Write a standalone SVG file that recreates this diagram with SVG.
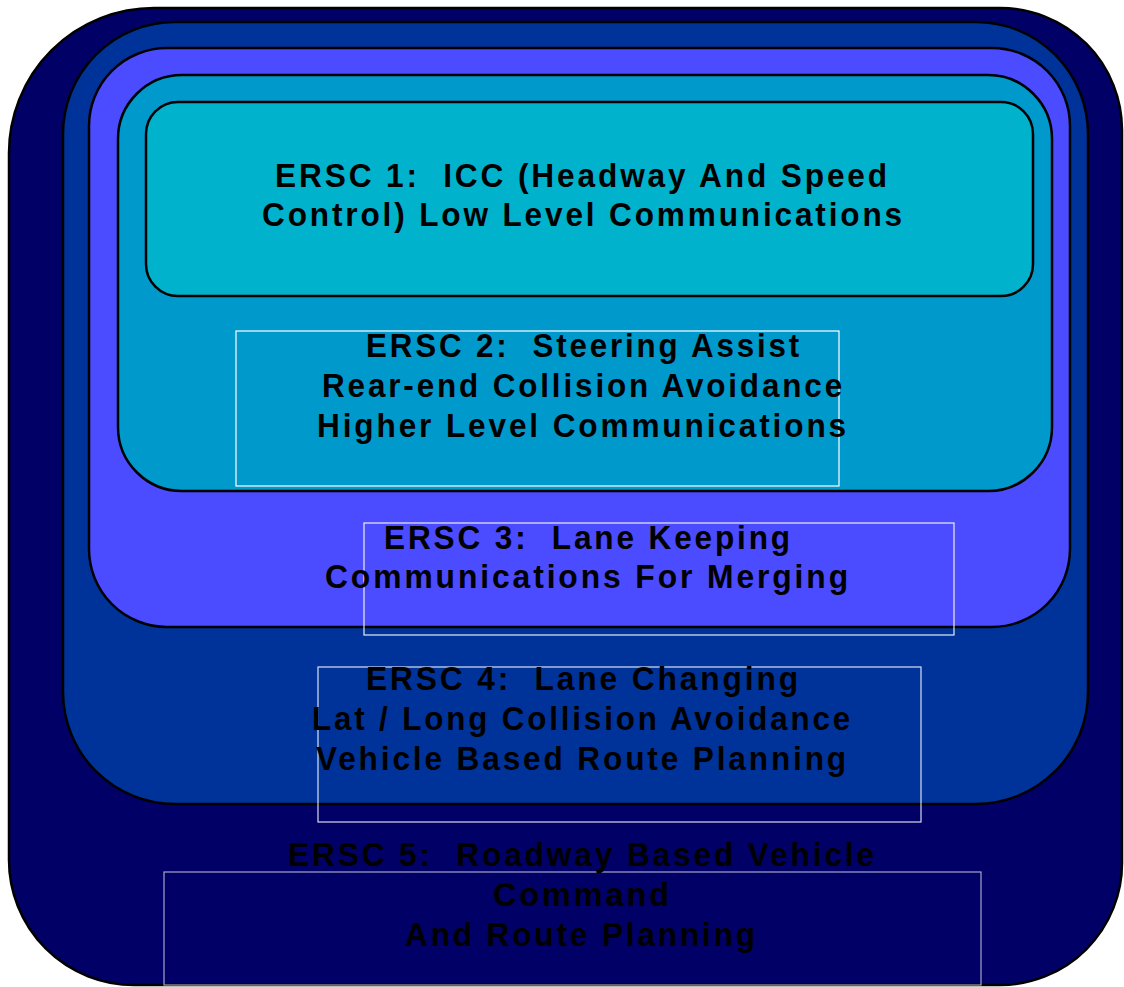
<svg xmlns="http://www.w3.org/2000/svg" width="1124" height="987" viewBox="0 0 1124 987">
<style>
.layer{stroke:#000;stroke-width:2.5}
.box{fill:none;stroke:#fff;stroke-width:1.2}
.t{font-family:"Liberation Sans",Arial,sans-serif;font-weight:bold;font-size:33px;letter-spacing:3px;fill:#000;white-space:pre}
</style>
<rect x="0" y="0" width="1124" height="987" fill="#fff"/>
<g id="ersc5">
<path class="layer" fill="#000066" d="M154,8 H1000 A122,122 0 0 1 1122,130 V863 A122,122 0 0 1 1000,985 H134 A125,125 0 0 1 9,860 V153 A145,145 0 0 1 154,8 Z"/>
</g>
<g id="ersc4">
<rect class="layer" x="63" y="22" width="1025" height="782" rx="112" ry="112" fill="#003399"/>
</g>
<g id="ersc3">
<rect class="layer" x="89" y="48" width="981" height="579" rx="78" ry="78" fill="#4B4BFF"/>
</g>
<g id="ersc2">
<rect class="layer" x="118" y="75" width="934" height="416" rx="64" ry="64" fill="#0099CC"/>
</g>
<g id="ersc1">
<rect class="layer" x="146" y="102" width="887" height="194" rx="32" ry="32" fill="#00B2CC"/>
<text class="t" x="275" y="187" textLength="615" lengthAdjust="spacingAndGlyphs">ERSC 1:  ICC (Headway And Speed</text>
<text class="t" x="262" y="226" textLength="643" lengthAdjust="spacingAndGlyphs">Control) Low Level Communications</text>
</g>
<g id="ersc2-label">
<rect class="box" x="236" y="331" width="603" height="155"/>
<text class="t" x="366" y="357" textLength="436" lengthAdjust="spacingAndGlyphs">ERSC 2:  Steering Assist</text>
<text class="t" x="322" y="397" textLength="523" lengthAdjust="spacingAndGlyphs">Rear-end Collision Avoidance</text>
<text class="t" x="317" y="437" textLength="532" lengthAdjust="spacingAndGlyphs">Higher Level Communications</text>
</g>
<g id="ersc3-label">
<rect class="box" x="364" y="523" width="590" height="112" stroke-opacity="0.9"/>
<text class="t" x="384" y="549" textLength="409" lengthAdjust="spacingAndGlyphs">ERSC 3:  Lane Keeping</text>
<text class="t" x="325" y="588" textLength="526" lengthAdjust="spacingAndGlyphs">Communications For Merging</text>
</g>
<g id="ersc4-label">
<rect class="box" x="318" y="667" width="603" height="155" stroke-opacity="0.85"/>
<text class="t" x="366" y="690" textLength="435" lengthAdjust="spacingAndGlyphs">ERSC 4:  Lane Changing</text>
<text class="t" x="312" y="730" textLength="541" lengthAdjust="spacingAndGlyphs">Lat / Long Collision Avoidance</text>
<text class="t" x="316" y="770" textLength="533" lengthAdjust="spacingAndGlyphs">Vehicle Based Route Planning</text>
</g>
<g id="ersc5-label">
<rect class="box" x="164" y="872" width="817" height="113" stroke-opacity="0.65"/>
<text class="t" x="288" y="866" textLength="589" lengthAdjust="spacingAndGlyphs">ERSC 5:  Roadway Based Vehicle</text>
<text class="t" x="493" y="906" textLength="179" lengthAdjust="spacingAndGlyphs">Command</text>
<text class="t" x="405" y="946" textLength="353" lengthAdjust="spacingAndGlyphs">And Route Planning</text>
</g>
<g id="connectors"></g>
</svg>
